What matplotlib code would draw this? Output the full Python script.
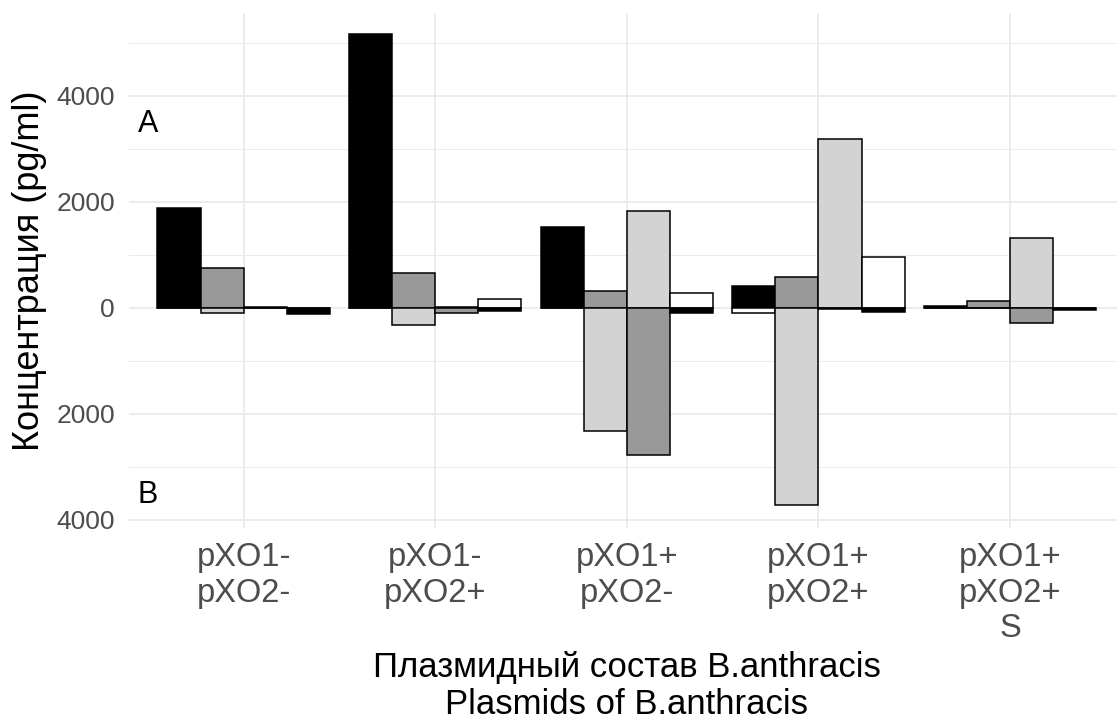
import matplotlib
matplotlib.use("Agg")
import matplotlib.pyplot as plt
import numpy as np

plt.rcParams['font.family'] = ['Liberation Sans', 'DejaVu Sans']

groups = ["pXO1-\npXO2-", "pXO1-\npXO2+", "pXO1+\npXO2-", "pXO1+\npXO2+", "pXO1+\npXO2+\nS"]

# panel A (above zero): black, dark grey, light grey, white
a_black = [1890, 5155, 1523, 415, 30]
a_dark = [757, 654, 315, 575, 125]
a_light = [20, 10, 1824, 3176, 1320]
a_white = [0, 160, 270, 948, 0]

# panel B (below zero): white, light grey, dark grey, black
b_white = [0, 0, 0, 95, 0]
b_light = [100, 320, 2333, 3719, 0]
b_dark = [10, 100, 2778, 30, 295]
b_black = [110, 62, 105, 85, 40]

yticks = [-4000, -2000, 0, 2000, 4000]
ytick_labels = ["4000", "2000", "0", "2000", "4000"]

fig = plt.figure(figsize=(11.17, 7.22), dpi=100)
ax = fig.add_axes([0.1152, 0.2687, 0.892, 0.7129])

x = np.arange(len(groups))
w = 0.225
offs = [-1.5 * w, -0.5 * w, 0.5 * w, 1.5 * w]

top_series = [(a_black, "black"), (a_dark, "#999999"), (a_light, "#D3D3D3"), (a_white, "white")]
bot_series = [(b_white, "white"), (b_light, "#D3D3D3"), (b_dark, "#999999"), (b_black, "black")]

for (vals, col), o in zip(top_series, offs):
    ax.bar(x + o, vals, width=w, color=col, edgecolor="black", linewidth=1.1, zorder=3)
for (vals, col), o in zip(bot_series, offs):
    ax.bar(x + o, -np.array(vals), width=w, color=col, edgecolor="black", linewidth=1.1, zorder=3)

ax.text(-0.5, 3466, "A", fontsize=22, ha="center", va="center", zorder=4)
ax.text(-0.5, -3530, "B", fontsize=22, ha="center", va="center", zorder=4)

ax.set_xlim(-0.6, 4.6)
ax.set_ylim(-4157, 5555)
ax.set_xticks(x)
ax.set_xticklabels(groups, fontsize=23.5, color="#4D4D4D", linespacing=1.2)
ax.set_yticks(yticks)
ax.set_yticklabels(ytick_labels, fontsize=19, color="#4D4D4D")
ax.set_yticks(np.arange(-3000, 6000, 2000), minor=True)
ax.tick_params(axis="both", which="both", length=0)
ax.tick_params(axis="x", pad=10)
ax.tick_params(axis="y", pad=10)
ax.grid(True, which="major", color="#EBEBEB", linewidth=1.3, zorder=0)
ax.grid(True, which="minor", axis="y", color="#EBEBEB", linewidth=0.7, zorder=0)
ax.set_axisbelow(True)
for s in ax.spines.values():
    s.set_visible(False)

ax.set_ylabel("Концентрация (pg/ml)", fontsize=26)
ax.yaxis.set_label_coords(-0.0823, 0.5)
ax.set_xlabel("Плазмидный состав B.anthracis\nPlasmids of B.anthracis", fontsize=25, linespacing=1.15, va="top")
ax.xaxis.set_label_coords(0.5, -0.239)

fig.savefig("out.png", dpi=100)
